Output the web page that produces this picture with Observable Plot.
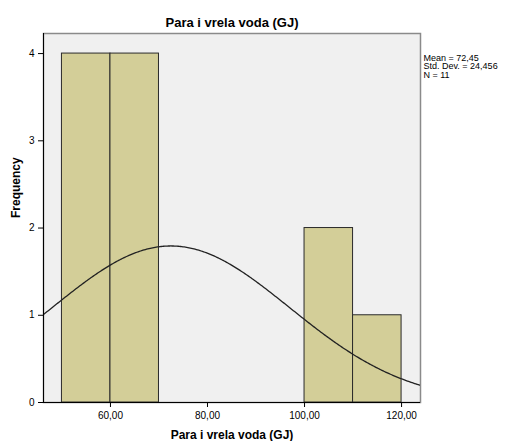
<!DOCTYPE html>
<html>
<head>
<meta charset="utf-8">
<script src="https://cdn.jsdelivr.net/npm/d3@7"></script>
<script src="https://cdn.jsdelivr.net/npm/@observablehq/plot@0.6"></script>
<style>
  html, body { margin: 0; padding: 0; background: #ffffff; }
  #chart { width: 509px; height: 441px; }
</style>
</head>
<body>
<div id="chart"></div>
<script>
// Histogram bins (lower edge, upper edge) and frequencies
const binLow = [50, 60, 100, 110];
const binHigh = [60, 70, 110, 120];
const frequency = [4, 4, 2, 1];
// Summary statistics shown in the legend
const statMean = 72.45;
const statSD = 24.456;
const statN = 11;
const binWidth = 10;
const xTicks = [60, 80, 100, 120];
const yTicks = [0, 1, 2, 3, 4];
const titleText = "Para i vrela voda (GJ)";
const xLabel = "Para i vrela voda (GJ)";
const yLabel = "Frequency";
const statsLines = ["Mean = 72,45", "Std. Dev. = 24,456", "N = 11"];

const xDomain = [46.2, 123.9];
const yDomain = [0, 4.23];

const bars = binLow.map((lo, i) => ({x1: lo, x2: binHigh[i], y: frequency[i]}));

// Fitted normal curve from the displayed mean, SD and N
const curve = d3.range(xDomain[0], xDomain[1] + 0.01, 0.25).map(x => ({
  x,
  y: statN * binWidth / (statSD * Math.sqrt(2 * Math.PI)) * Math.exp(-0.5 * ((x - statMean) / statSD) ** 2)
}));

const fmt = d => d.toFixed(2).replace(".", ",");

const plot = Plot.plot({
  width: 509,
  height: 441,
  marginLeft: 43,
  marginRight: 89,
  marginTop: 33,
  marginBottom: 39,
  style: {fontFamily: "'Liberation Sans', Arial, sans-serif", fontSize: "10px", color: "#000", background: "#fff"},
  x: {domain: xDomain, ticks: xTicks, tickFormat: fmt, label: null, tickSize: 5},
  y: {domain: yDomain, ticks: yTicks, tickFormat: d => String(d), label: null, tickSize: 5},
  marks: [
    Plot.frame({fill: "#f0f0f0", stroke: "#8a8a8a", strokeWidth: 1.5}),
    Plot.rectY(bars, {x1: "x1", x2: "x2", y: "y", fill: "#d3ce98", stroke: "#2a2a2a", strokeWidth: 1}),
    Plot.line(curve, {x: "x", y: "y", stroke: "#222", strokeWidth: 1.3, clip: true}),
    Plot.ruleX([xDomain[0]], {stroke: "#000", strokeWidth: 1}),
    Plot.ruleY([0], {stroke: "#000", strokeWidth: 1}),
    Plot.axisX({ticks: xTicks, tickFormat: fmt, tickSize: 5, label: null, fontSize: 10}),
    Plot.axisY({ticks: yTicks, tickFormat: d => String(d), tickSize: 5, label: null, fontSize: 10}),
    Plot.text([titleText], {frameAnchor: "top", lineAnchor: "middle", dy: -11, fontSize: 13, fontWeight: "bold"}),
    Plot.text([xLabel], {frameAnchor: "bottom", lineAnchor: "middle", dy: 33, fontSize: 12, fontWeight: "bold"}),
    Plot.text([yLabel], {frameAnchor: "left", dx: -27, rotate: -90, fontSize: 12, fontWeight: "bold"}),
    ...statsLines.map((s, i) =>
      Plot.text([s], {frameAnchor: "top-right", dx: 3, dy: 27 + i * 8.8, textAnchor: "start", lineAnchor: "bottom", fontSize: 9})
    )
  ]
});
document.getElementById("chart").appendChild(plot);
</script>
</body>
</html>
